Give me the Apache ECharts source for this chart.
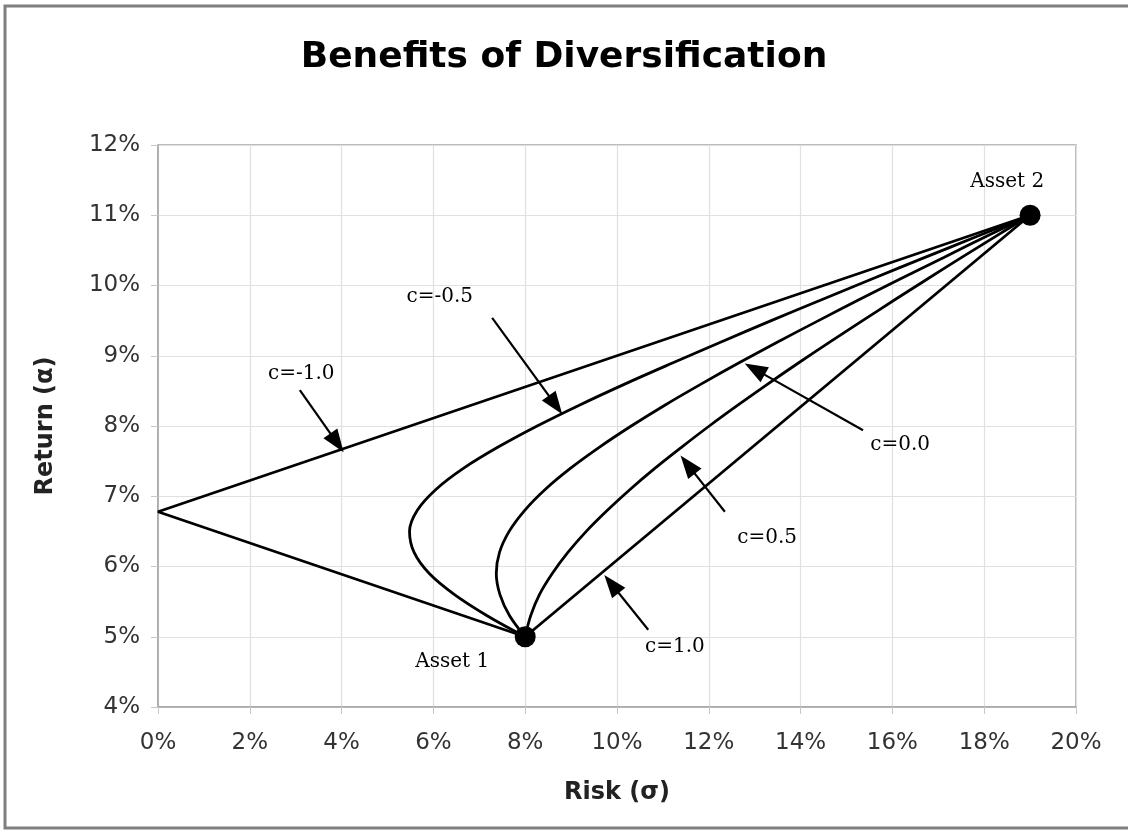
<!DOCTYPE html>
<html><head><meta charset="utf-8">
<script src="https://cdn.jsdelivr.net/npm/echarts/dist/echarts.min.js"></script>
<style>html,body{margin:0;padding:0;background:#fff}#c{width:1128px;height:832px}</style>
</head><body><div id="c"></div>
<script>
// Portfolio frontiers: [risk %, return %]
const corrNeg10 = [[8,5],[0,6.78],[19,11]];
const corrNeg05 = [[8.00,5.0],[7.17,5.3],[6.46,5.6],[5.91,5.9],[5.58,6.2],[5.48,6.5],[5.65,6.8],[6.06,7.1],[6.66,7.4],[7.41,7.7],[8.26,8.0],[9.19,8.3],[10.18,8.6],[11.22,8.9],[12.28,9.2],[13.36,9.5],[14.47,9.8],[15.58,10.1],[16.71,10.4],[17.85,10.7],[19.00,11.0]];
const corr00 = [[8.00,5.0],[7.66,5.3],[7.45,5.6],[7.37,5.9],[7.44,6.2],[7.65,6.5],[7.99,6.8],[8.44,7.1],[8.99,7.4],[9.62,7.7],[10.31,8.0],[11.05,8.3],[11.84,8.6],[12.66,8.9],[13.51,9.2],[14.39,9.5],[15.28,9.8],[16.19,10.1],[17.12,10.4],[18.05,10.7],[19.00,11.0]];
const corr05 = [[8.00,5.0],[8.12,5.3],[8.31,5.6],[8.59,5.9],[8.93,6.2],[9.33,6.5],[9.79,6.8],[10.29,7.1],[10.83,7.4],[11.41,7.7],[12.01,8.0],[12.64,8.3],[13.29,8.6],[13.96,8.9],[14.65,9.2],[15.35,9.5],[16.06,9.8],[16.78,10.1],[17.51,10.4],[18.25,10.7],[19.00,11.0]];
const corr10 = [[8,5],[19,11]];
const assets = [[8,5],[19,11]];
const annotationNames = ['c=-1.0','c=-0.5','c=0.0','c=0.5','c=1.0','Asset 1','Asset 2'];
const annotationPos = [[3.12,8.75],[6.14,9.84],[16.17,7.73],[13.27,6.41],[11.26,4.85],[6.41,4.65],[18.5,11.47]];
const arrowStarts = [[3.09,8.51],[7.28,9.54],[15.36,7.94],[12.35,6.78],[10.68,5.10]];
const arrowEnds = [[3.90,7.76],[8.66,8.30],[13.00,8.81],[11.54,7.45],[9.88,5.75]];
const xMin = 0, xMax = 20, xStep = 2;
const yMin = 4, yMax = 12, yStep = 1;

const chart = echarts.init(document.getElementById('c'));
const lineStyle = {color:'#000', width:2.8};
function curve(name, data, smooth){
  return {name, type:'line', data, smooth: smooth ? 0.35 : false, symbol:'none',
    lineStyle, z:3, animation:false};
}
const labelFont = {fontFamily:'DejaVu Serif', fontSize:20, color:'#000'};
chart.setOption({
  animation:false,
  backgroundColor:'#fff',
  title:{text:'Benefits of Diversification', left:'center', top:35,
    textStyle:{fontFamily:'DejaVu Sans', fontWeight:'bold', fontSize:36, color:'#000'}},
  graphic:[{type:'rect', shape:{x:5, y:6, width:1140, height:822},
    style:{fill:'none', stroke:'#7f7f7f', lineWidth:3}, z:-1}],
  grid:{left:158, right:52, top:145, bottom:125, show:true, borderColor:'#a6a6a6', borderWidth:1.5},
  xAxis:{type:'value', min:xMin, max:xMax, interval:xStep,
    name:'Risk (σ)', nameLocation:'middle', nameGap:74,
    nameTextStyle:{fontFamily:'DejaVu Sans', fontWeight:'bold', fontSize:24, color:'#222'},
    axisLine:{show:true, lineStyle:{color:'#a6a6a6', width:1.5}},
    axisTick:{show:true, length:7, lineStyle:{color:'#c8c8c8'}},
    axisLabel:{formatter:'{value}%', margin:25, fontFamily:'DejaVu Sans', fontSize:23, color:'#333'},
    splitLine:{show:true, lineStyle:{color:'#e0e0e0', width:1.2}}},
  yAxis:{type:'value', min:yMin, max:yMax, interval:yStep,
    name:'Return (α)', nameLocation:'middle', nameGap:100, nameRotate:90,
    nameTextStyle:{fontFamily:'DejaVu Sans', fontWeight:'bold', fontSize:24, color:'#222'},
    axisLine:{show:true, lineStyle:{color:'#a6a6a6', width:1.5}},
    axisTick:{show:true, length:7, lineStyle:{color:'#c8c8c8'}},
    axisLabel:{formatter:'{value}%', margin:18, fontFamily:'DejaVu Sans', fontSize:23, color:'#333'},
    splitLine:{show:true, lineStyle:{color:'#e0e0e0', width:1.2}}},
  series:[
    curve('c=-1.0', corrNeg10, false),
    curve('c=-0.5', corrNeg05, true),
    curve('c=0.0', corr00, true),
    curve('c=0.5', corr05, true),
    curve('c=1.0', corr10, false),
    {name:'assets', type:'scatter', data:assets, symbol:'circle', symbolSize:21,
      itemStyle:{color:'#000', opacity:1}, z:5, animation:false},
    {name:'labels', type:'scatter', symbolSize:1, itemStyle:{color:'rgba(0,0,0,0)', opacity:1},
      data: annotationNames.map((n,i)=>({name:n, value:annotationPos[i]})),
      label:{show:true, position:'inside', formatter:'{b}', ...labelFont}, z:6, animation:false,
      markLine:{silent:true, symbol:['none','triangle'], symbolSize:[17,23], animation:false,
        label:{show:false}, lineStyle:{type:'solid', color:'#000', width:2.2, opacity:1},
        itemStyle:{color:'#000'},
        data: arrowStarts.map((s,i)=>[{coord:s},{coord:arrowEnds[i]}])}}
  ]
});
</script></body></html>
